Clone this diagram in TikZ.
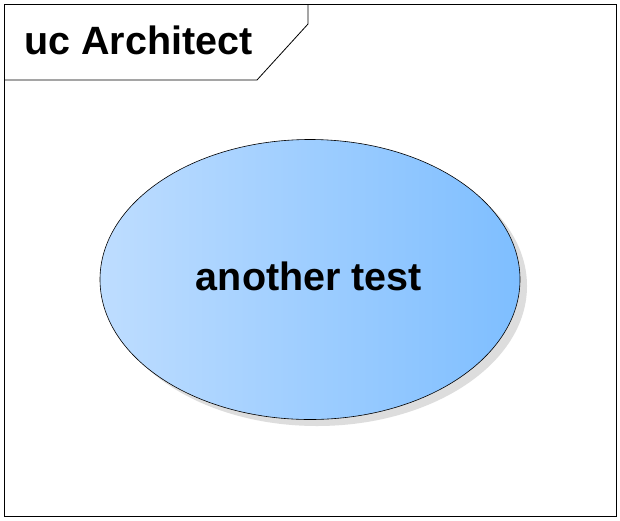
\documentclass[tikz,border=0pt]{standalone}
\usepackage{fontspec}
\setmainfont{Liberation Sans}
\definecolor{ucleft}{RGB}{190,221,255}
\definecolor{ucright}{RGB}{126,190,255}
\definecolor{ucshadow}{RGB}{221,221,221}
\tikzset{
  frameline/.style={draw=black, line width=1pt},
  usecase/.style={ellipse, draw=black, line width=0.6pt, left color=ucleft, right color=ucright, minimum width=420pt, minimum height=280pt, inner sep=0pt},
  ucshade/.style={ellipse, fill=ucshadow, minimum width=420pt, minimum height=280pt, inner sep=0pt},
  bigtext/.style={font=\fontsize{39.5}{45}\selectfont\bfseries, inner sep=0pt}
}
\usetikzlibrary{shapes.geometric}
\begin{document}
\begin{tikzpicture}[x=1pt,y=-1pt]
\useasboundingbox (0,0) rectangle (620,520);
\fill[white] (0,0) rectangle (620,520);
\draw[frameline] (4,4) rectangle (616,516);
\draw[frameline, line width=0.8pt] (4,80) -- (257,80) -- (308,24) -- (308,4);
\node[bigtext, anchor=base west] (title) at (24,54) {uc Architect};
\node[ucshade] (shadow) at (317,286) {};
\node[usecase] (uc) at (310,279.5) {};
\node[bigtext] (label) at (309,276) {another test};
\end{tikzpicture}
\end{document}
